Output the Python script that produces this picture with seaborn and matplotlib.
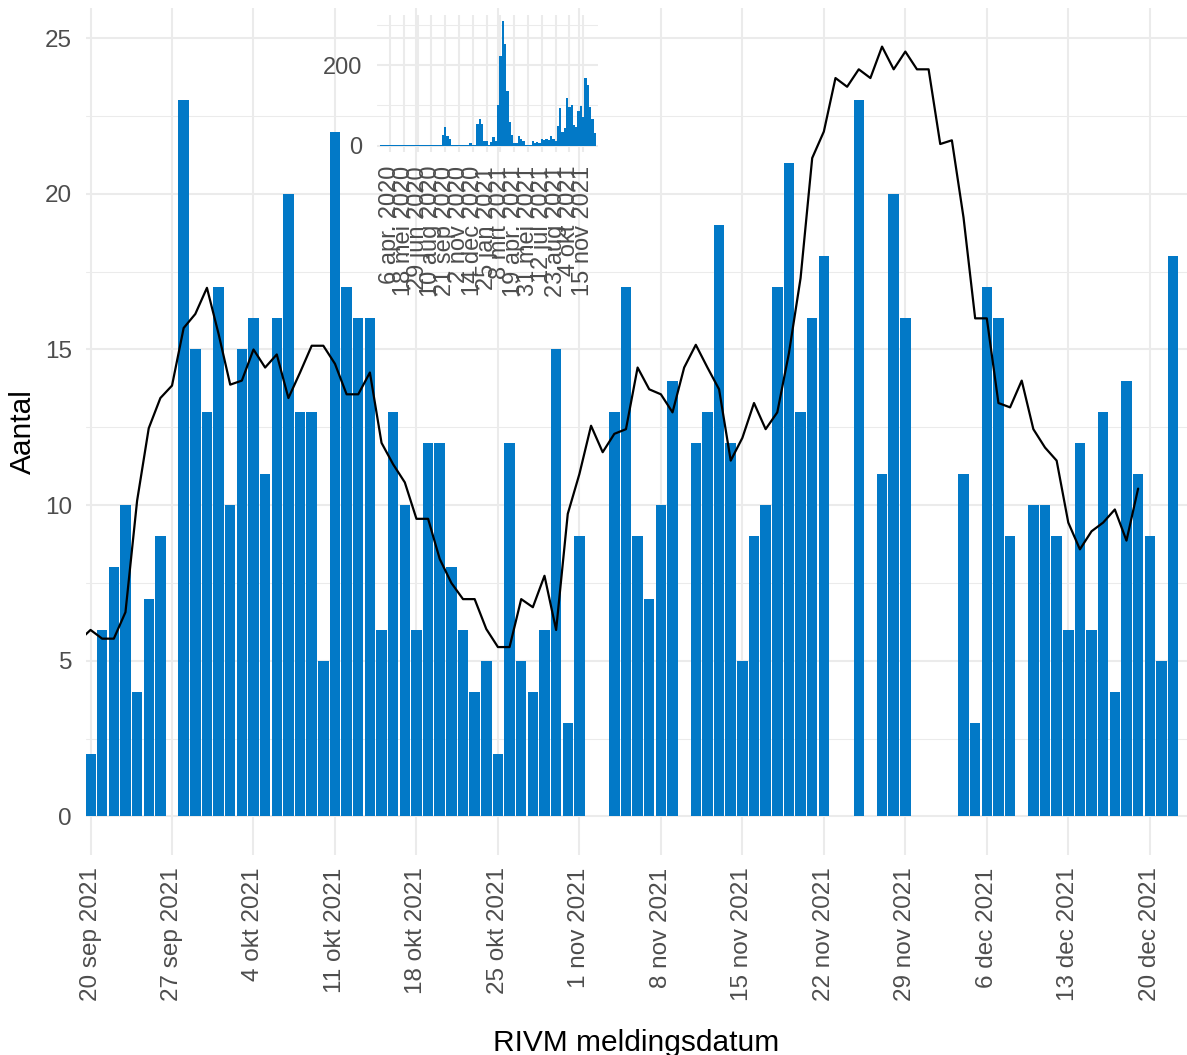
import matplotlib
matplotlib.use("Agg")
import matplotlib.pyplot as plt
import matplotlib.dates as mdates
import numpy as np
import pandas as pd
import seaborn as sns

# daily reports, 20 sep 2021 .. 22 dec 2021 (None = no bar that day)
daily_counts = [
    2, 6, 8, 10, 4, 7, 9,            # 20-26 sep
    None, 23, 15, 13, 17, 10, 15,    # 27 sep - 3 okt
    16, 11, 16, 20, 13, 13, 5,       # 4-10 okt
    22, 17, 16, 16, 6, 13, 10,       # 11-17 okt
    6, 12, 12, 8, 6, 4, 5,           # 18-24 okt
    2, 12, 5, 4, 6, 15, 3,           # 25-31 okt
    9, 0, None, 13, 17, 9, 7,        # 1-7 nov
    10, 14, None, 12, 13, 19, 12,    # 8-14 nov
    5, 9, 10, 17, 21, 13, 16,        # 15-21 nov
    18, None, None, 23, None, 11, 20,  # 22-28 nov
    16, None, None, None, None, 11, 3,  # 29 nov - 5 dec
    17, 16, 9, None, 10, 10, 9,      # 6-12 dec
    6, 12, 6, 13, 4, 14, 11,         # 13-19 dec
    9, 5, 18,                        # 20-22 dec
]

# 7-day average, 19 sep 2021 .. 19 dec 2021
rolling_avg = [
    5.64,
    5.99, 5.71, 5.71, 6.56, 10.14, 12.47, 13.44,
    13.84, 15.69, 16.14, 16.98, 15.50, 13.87, 14.00,
    15.00, 14.42, 14.84, 13.44, 14.26, 15.12, 15.12,
    14.54, 13.56, 13.56, 14.26, 12.00, 11.31, 10.73,
    9.56, 9.56, 8.27, 7.50, 6.98, 6.98, 6.02,
    5.44, 5.44, 6.98, 6.72, 7.73, 5.99, 9.72,
    11.00, 12.55, 11.70, 12.29, 12.44, 14.42, 13.72,
    13.56, 12.98, 14.42, 15.15, 14.42, 13.72, 11.43,
    12.16, 13.28, 12.44, 12.98, 14.88, 17.29, 21.15,
    22.00, 23.72, 23.44, 24.00, 23.72, 24.73, 24.00,
    24.57, 24.00, 24.00, 21.60, 21.72, 19.24, 16.00,
    16.00, 13.28, 13.14, 14.00, 12.44, 11.85, 11.43,
    9.44, 8.58, 9.16, 9.44, 9.86, 8.86, 10.53,
]

# weekly totals for the inset, week of 9 mrt 2020 .. week of 20 dec 2021
weekly_counts = [
    1, 2, 1, 1, 1, 1, 1, 1, 1, 1,
    1, 1, 1, 1, 1, 1, 1, 1, 3, 1,
    1, 1, 1, 1, 1, 3, 1, 27, 47, 25,
    18, 1, 1, 3, 1, 3, 1, 3, 1, 7,
    1, 2, 55, 67, 54, 12, 12, 1, 9, 21,
    12, 100, 222, 309, 253, 136, 58, 27, 8, 7,
    23, 16, 12, 3, 3, 2, 12, 8, 10, 8,
    17, 15, 18, 15, 25, 16, 12, 49, 93, 35,
    44, 118, 95, 100, 51, 46, 86, 99, 72, 167,
    151, 97, 67, 31,
]

main_tick_labels = ["20 sep 2021", "27 sep 2021", "4 okt 2021", "11 okt 2021",
                    "18 okt 2021", "25 okt 2021", "1 nov 2021", "8 nov 2021",
                    "15 nov 2021", "22 nov 2021", "29 nov 2021", "6 dec 2021",
                    "13 dec 2021", "20 dec 2021"]
inset_tick_labels = ["6 apr. 2020", "18 mei 2020", "29 jun 2020", "10 aug 2020",
                     "21 sep 2020", "2 nov 2020", "14 dec 2020", "25 jan 2021",
                     "8 mrt 2021", "19 apr. 2021", "31 mei 2021", "12 jul 2021",
                     "23 aug 2021", "4 okt 2021", "15 nov 2021"]

BLUE = "#0279C7"
GRID = "#EBEBEB"
TICK = "#4D4D4D"

sns.set_theme(style="whitegrid")
plt.rcParams['font.family'] = ['Liberation Sans', 'DejaVu Sans']

days = pd.date_range("2021-09-20", periods=len(daily_counts), freq="D")
df_daily = pd.DataFrame({"datum": mdates.date2num(days),
                         "aantal": pd.to_numeric(pd.Series(daily_counts), errors="coerce")}).dropna()
line_days = pd.date_range("2021-09-19", periods=len(rolling_avg), freq="D")
df_line = pd.DataFrame({"datum": mdates.date2num(line_days), "gem": rolling_avg})
weeks = pd.date_range("2020-03-09", periods=len(weekly_counts), freq="7D")
df_week = pd.DataFrame({"week": mdates.date2num(weeks), "aantal": weekly_counts})

W, H = 1187, 1055
fig = plt.figure(figsize=(W / 100, H / 100), dpi=100)

# main panel
ax = fig.add_axes([86 / W, 200 / H, 1101 / W, 847 / H])
sns.barplot(data=df_daily, x="datum", y="aantal", native_scale=True, width=0.9,
            color=BLUE, saturation=1, errorbar=None, edgecolor="none", ax=ax)
sns.lineplot(data=df_line, x="datum", y="gem", color="black", linewidth=1.6, ax=ax)

day0 = mdates.date2num(pd.Timestamp("2021-09-20"))
ax.set_xlim(day0 - 0.39, day0 + 94.2)
ax.set_ylim(-1.24, 25.97)
ax.set_xticks(mdates.date2num(pd.date_range("2021-09-20", periods=len(main_tick_labels), freq="7D")))
ax.set_xticklabels(main_tick_labels, rotation=90)
ax.set_yticks(np.arange(0, 26, 5))
ax.set_yticks(np.arange(2.5, 25, 5), minor=True)
ax.grid(False)
ax.grid(which="major", color=GRID, linewidth=1.45)
ax.yaxis.grid(True, which="minor", color=GRID, linewidth=0.75)
ax.set_axisbelow(True)
sns.despine(ax=ax, left=True, bottom=True)
ax.tick_params(axis="both", which="both", length=0, labelsize=17.5, labelcolor=TICK)
ax.tick_params(axis="x", pad=9)
ax.tick_params(axis="y", pad=10)
ax.set_xlabel("RIVM meldingsdatum", fontsize=21.5, color="black", va="top")
ax.xaxis.set_label_coords(0.5, (855 - 1029) / 847)
ax.set_ylabel("Aantal", fontsize=21.5, color="black", va="center")
ax.yaxis.set_label_coords((23 - 86) / 1101, 0.5)

# inset with the full period
axi = fig.add_axes([376.7 / W, 903 / H, 221 / W, 137 / H])
axi.patch.set_alpha(0)
sns.barplot(data=df_week, x="week", y="aantal", native_scale=True, width=1.0,
            color=BLUE, saturation=1, errorbar=None, edgecolor="none", ax=axi)
w0 = mdates.date2num(pd.Timestamp("2020-03-09"))
axi.set_xlim(w0 - 12.8, w0 + 660)
axi.set_ylim(-15.5, 324.5)
axi.set_xticks(mdates.date2num(pd.date_range("2020-04-06", periods=len(inset_tick_labels), freq="42D")))
axi.set_xticklabels(inset_tick_labels, rotation=90)
axi.set_yticks([0, 200])
axi.set_yticks([100, 300], minor=True)
axi.grid(False)
axi.grid(which="major", color=GRID, linewidth=1.45)
axi.yaxis.grid(True, which="minor", color=GRID, linewidth=0.75)
axi.set_axisbelow(True)
sns.despine(ax=axi, left=True, bottom=True)
axi.tick_params(axis="both", which="both", length=0, labelsize=17, labelcolor=TICK)
axi.tick_params(axis="x", pad=10)
axi.tick_params(axis="y", pad=10.5)
axi.set_xlabel("")
axi.set_ylabel("")

fig.savefig("out.png", dpi=100)
